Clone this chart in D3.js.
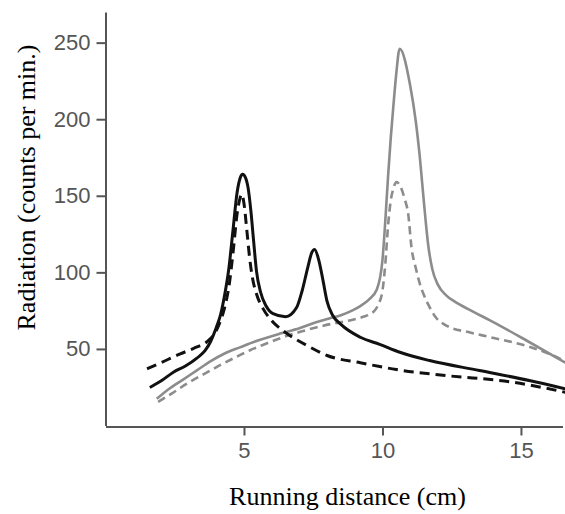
<!DOCTYPE html>
<html>
<head>
<meta charset="utf-8">
<script src="https://cdn.jsdelivr.net/npm/d3@7"></script>
<style>
  html, body { margin: 0; padding: 0; background: #fff; }
  svg { display: block; }
</style>
</head>
<body>
<svg id="chart" width="565" height="514"></svg>
<script>
// ---- data ----
const xTicks = [5, 10, 15];
const yTicks = [50, 100, 150, 200, 250];

const blackSolidX = [1.6, 2.0, 2.45, 2.9, 3.3, 3.6, 3.8, 4.0, 4.15, 4.3, 4.45, 4.6, 4.75, 4.87, 4.95, 5.05, 5.15, 5.25, 5.35, 5.45, 5.6, 5.8, 6.05, 6.5, 6.9, 7.1, 7.3, 7.45, 7.55, 7.7, 7.85, 8.0, 8.2, 8.5, 9.2, 9.9, 10.6, 11.7, 13.5, 15.3, 16.6];
const blackSolidY = [24.8, 29, 34.8, 39, 44, 49, 55, 64, 72, 85, 102, 127, 152, 162, 164, 162, 155, 140, 120, 101, 87, 78, 73, 71, 77, 88, 103, 113, 115, 108, 95, 81, 72, 66, 57.6, 53, 48, 42.4, 35.9, 29.4, 24];

const blackDashX = [1.5, 2.0, 2.7, 3.2, 3.65, 3.9, 4.1, 4.3, 4.45, 4.6, 4.75, 4.85, 4.92, 5.0, 5.1, 5.2, 5.3, 5.45, 5.7, 6.0, 6.4, 6.9, 7.3, 8.0, 9.2, 9.9, 10.5, 12.3, 14.7, 16.6];
const blackDashY = [37, 41, 46.8, 50.5, 54.5, 59, 66, 77, 90, 112, 138, 148, 151, 145, 128, 110, 97, 86, 76, 68.5, 62, 56, 52, 45.7, 41, 38.5, 36.5, 32.6, 28.3, 21.7];

const graySolidX = [1.85, 2.3, 2.8, 3.3, 3.8, 4.3, 4.85, 5.5, 6.3, 7.0, 7.6, 8.1, 8.5, 8.9, 9.2, 9.5, 9.8, 10.0, 10.1, 10.2, 10.3, 10.4, 10.5, 10.62, 11.0, 11.2, 11.35, 11.5, 11.65, 11.8, 12.0, 12.3, 12.6, 13.2, 13.9, 15.2, 16.6];
const graySolidY = [17.4, 24, 30, 36, 42, 47, 51, 55.5, 60, 63.5, 67.4, 70, 72, 75, 78, 82, 89, 108, 133, 162, 188, 210, 230, 246, 222, 199, 175, 145, 118, 102, 92, 85, 81, 75, 68.5, 55.5, 41];

const grayDashX = [1.9, 2.4, 3.0, 3.6, 4.2, 4.8, 5.2, 5.6, 6.4, 7.0, 7.6, 8.2, 8.8, 9.3, 9.66, 9.85, 10.0, 10.1, 10.2, 10.3, 10.4, 10.5, 10.65, 10.8, 10.93, 11.05, 11.2, 11.35, 11.5, 11.71, 11.95, 12.2, 12.45, 13.1, 13.9, 15.2, 16.16, 16.6];
const grayDashY = [15.5, 21, 28, 34, 40, 45.5, 49, 52, 57.6, 61, 64, 66.5, 68.5, 71, 74, 79, 88, 105, 130, 147, 155, 159, 156, 148, 138, 116, 103, 92.5, 85, 77, 70, 66.4, 64, 61, 57.6, 52, 45.7, 42];

// ---- chart ----
const svg = d3.select("#chart");
const x = d3.scaleLinear().domain([0, 16.5]).range([105.5, 562.5]);
const y = d3.scaleLinear().domain([0, 270]).range([425.5, 12]);

const axisColor = "#555";

const line = d3.line()
  .x(d => x(d[0]))
  .y(d => y(d[1]))
  .curve(d3.curveMonotoneX);

const series = [
  { xs: graySolidX, ys: graySolidY, color: "#8c8c8c", width: 2.6, dash: null },
  { xs: grayDashX, ys: grayDashY, color: "#8c8c8c", width: 2.6, dash: "8,5" },
  { xs: blackDashX, ys: blackDashY, color: "#111", width: 3, dash: "10,6" },
  { xs: blackSolidX, ys: blackSolidY, color: "#111", width: 3, dash: null }
];

// axes
const gx = svg.append("g")
  .attr("transform", "translate(0,426.5)")
  .call(d3.axisBottom(x).tickValues(xTicks).tickSize(9).tickSizeOuter(0).tickPadding(7));
const gy = svg.append("g")
  .attr("transform", "translate(105.5,0)")
  .call(d3.axisLeft(y).tickValues(yTicks).tickSize(9).tickSizeOuter(0).tickPadding(6));

[gx, gy].forEach(g => {
  g.select(".domain").attr("stroke", axisColor).attr("stroke-width", 2);
  g.selectAll(".tick line").attr("stroke", axisColor).attr("stroke-width", 2);
  g.selectAll(".tick text")
    .attr("fill", "#555")
    .style("font-family", "'Liberation Sans', Arial, sans-serif")
    .style("font-size", "22px");
});

// lines
series.forEach(s => {
  const pts = s.xs.map((v, i) => [v, s.ys[i]]);
  svg.append("path")
    .datum(pts)
    .attr("fill", "none")
    .attr("stroke", s.color)
    .attr("stroke-width", s.width)
    .attr("stroke-linejoin", "round")
    .attr("stroke-linecap", "butt")
    .attr("stroke-dasharray", s.dash)
    .attr("d", line);
});

// axis titles
svg.append("text")
  .attr("x", 347.5)
  .attr("y", 505)
  .attr("text-anchor", "middle")
  .style("font-family", "'Liberation Serif', 'Times New Roman', serif")
  .style("font-size", "26px")
  .attr("fill", "#000")
  .text("Running distance (cm)");

svg.append("text")
  .attr("transform", "translate(35,187.5) rotate(-90)")
  .attr("text-anchor", "middle")
  .style("font-family", "'Liberation Serif', 'Times New Roman', serif")
  .style("font-size", "26px")
  .attr("fill", "#000")
  .text("Radiation (counts per min.)");
</script>
</body>
</html>
